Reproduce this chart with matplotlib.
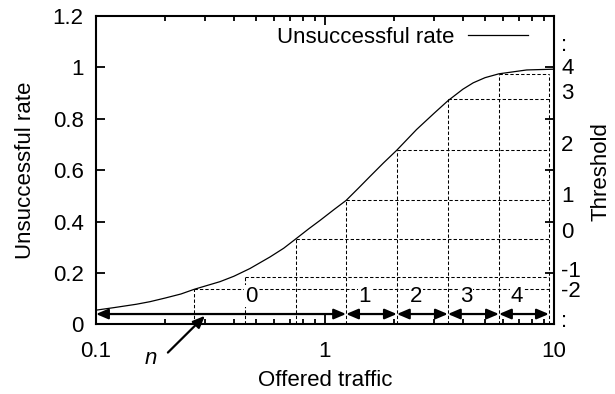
import matplotlib
matplotlib.use("Agg")
import matplotlib.pyplot as plt
from matplotlib.transforms import blended_transform_factory

plt.rcParams['font.family'] = ['Liberation Sans', 'DejaVu Sans']

# curve
traffic = [0.1, 0.12, 0.15, 0.172, 0.2, 0.235, 0.268, 0.3, 0.348, 0.4, 0.47,
           0.575, 0.66, 0.747, 0.85, 0.95, 1.1, 1.236, 1.4, 1.57, 1.8, 2.06,
           2.51, 3.0, 3.44, 4.0, 4.44, 5.0, 5.75, 7.6, 10.0]
unsuccessful = [0.055, 0.065, 0.078, 0.088, 0.102, 0.118, 0.136, 0.149, 0.166,
                0.187, 0.217, 0.262, 0.296, 0.333, 0.372, 0.404, 0.448, 0.482,
                0.53, 0.575, 0.628, 0.678, 0.758, 0.822, 0.87, 0.915, 0.94,
                0.96, 0.975, 0.99, 0.993]

# dashed staircase
step_x = [0.268, 0.448, 0.747, 1.236, 2.06, 3.44, 5.75]
step_h = [0.136, 0.185, 0.333, 0.482, 0.678, 0.876, 0.975]
step_end = 9.5

# arrows at the bottom
arrow_edges = [0.1, 1.236, 2.06, 3.44, 5.75, 9.5]
arrow_y = 0.04
arrow_labels = ['0', '1', '2', '3', '4']
arrow_label_x = [0.476, 1.49, 2.49, 4.15, 6.9]
arrow_label_y = 0.088

# threshold labels on the right
thr_labels = [':', '4', '3', '2', '1', '0', '-1', '-2', ':']
thr_y = [1.063, 0.973, 0.876, 0.673, 0.475, 0.334, 0.184, 0.107, -0.01]

fs = 16
fig = plt.figure(figsize=(6.15, 3.94), dpi=100)
ax = fig.add_axes([96 / 615, 1 - 324.3 / 394, 458 / 615, 308.3 / 394])

ax.plot(traffic, unsuccessful, color='black', lw=0.9, label='Unsuccessful rate')

dash = (0, (3.2, 2))
for x, h in zip(step_x, step_h):
    ax.plot([x, x], [0, h], color='black', lw=0.75, linestyle=dash)
    ax.plot([x, step_end], [h, h], color='black', lw=0.75, linestyle=dash)
ax.plot([step_end, step_end], [0, step_h[-1]], color='black', lw=0.75, linestyle=dash)

for a, b in zip(arrow_edges[:-1], arrow_edges[1:]):
    ax.annotate('', xy=(b, arrow_y), xytext=(a, arrow_y),
                arrowprops=dict(arrowstyle='<|-|>,head_length=0.4,head_width=0.17',
                                mutation_scale=18, lw=1.6, color='black',
                                shrinkA=0, shrinkB=0))
for lab, x in zip(arrow_labels, arrow_label_x):
    ax.text(x, arrow_label_y, lab, fontsize=fs, ha='center', va='baseline',
            bbox=dict(facecolor='white', edgecolor='none', pad=0.5))

ax.annotate('', xy=(0.299, 0.033), xytext=(0.206, -0.11),
            arrowprops=dict(arrowstyle='-|>,head_length=0.4,head_width=0.17',
                            mutation_scale=18, lw=1.6, color='black',
                            shrinkA=0, shrinkB=0),
            annotation_clip=False)
ax.text(0.174, -0.134, 'n', fontsize=fs, style='italic', ha='center', va='center')

tr = blended_transform_factory(ax.transAxes, ax.transData)
for lab, y in zip(thr_labels, thr_y):
    ax.text(1 + 7 / 458, y, lab, fontsize=fs, ha='left', va='baseline', transform=tr)

ax.set_xscale('log')
ax.set_xlim(0.1, 10)
ax.set_ylim(0, 1.2)
ax.set_xticks([0.1, 1, 10])
ax.set_xticklabels(['0.1', '1', '10'])
ax.set_yticks([0, 0.2, 0.4, 0.6, 0.8, 1.0, 1.2])
ax.set_yticklabels(['0', '0.2', '0.4', '0.6', '0.8', '1', '1.2'])
ax.tick_params(which='both', direction='in', top=True, right=True, labelsize=fs, width=1.3)
ax.tick_params(which='major', length=6.5)
ax.tick_params(which='minor', length=3.5)
ax.tick_params(axis='y', pad=9)
ax.tick_params(axis='x', pad=12)
for s in ax.spines.values():
    s.set_linewidth(1.5)

ax.set_xlabel('Offered traffic', fontsize=fs, labelpad=6)
ax.set_ylabel('Unsuccessful rate', fontsize=fs, labelpad=12)
fig.text(601 / 615, 1 - 172 / 394, 'Threshold', fontsize=fs, rotation=90,
         ha='center', va='center')

ax.legend(loc='upper right', bbox_to_anchor=(0.943, 0.965), frameon=False,
          markerfirst=False, fontsize=fs, handlelength=2.7, handletextpad=0.6,
          borderaxespad=0, borderpad=0)

fig.savefig('out.png', dpi=100)
